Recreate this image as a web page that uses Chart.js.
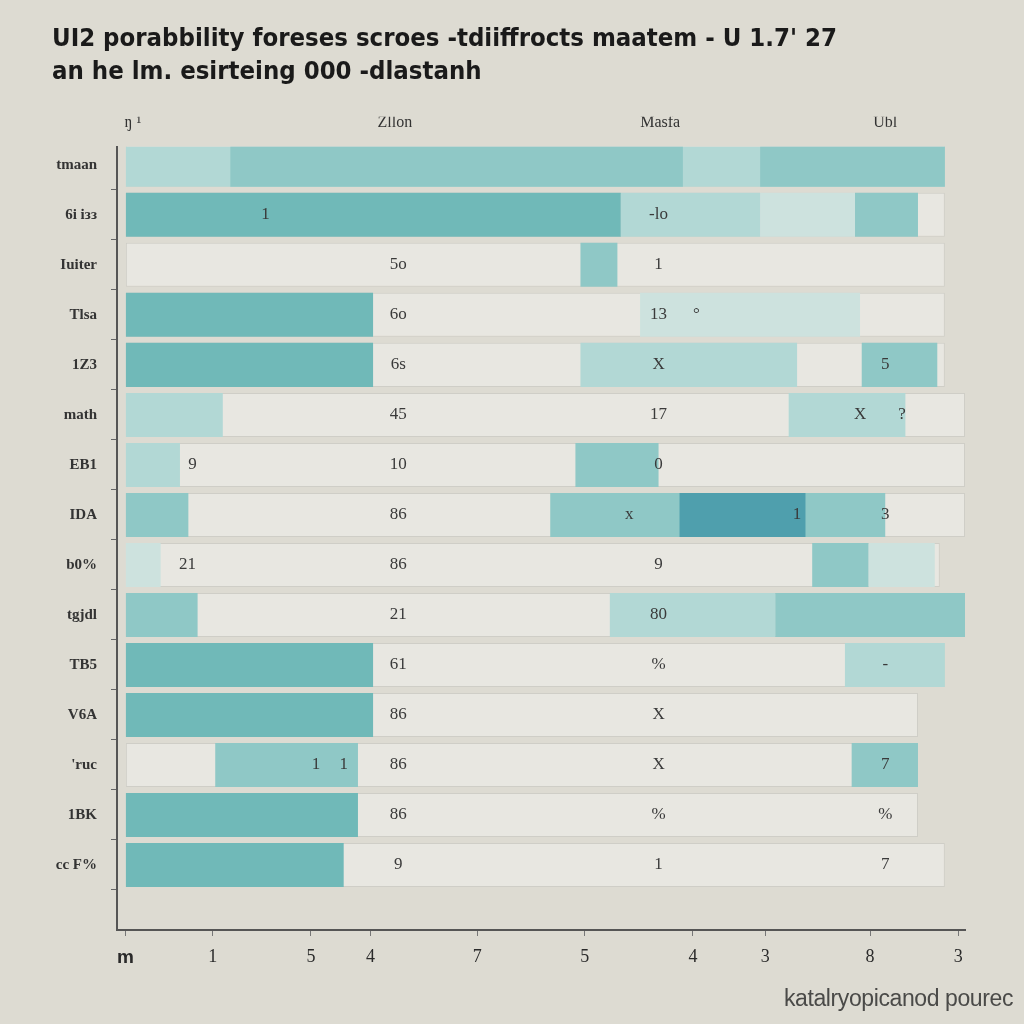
<!DOCTYPE html>
<html>
<head>
<meta charset="utf-8">
<script src="https://cdn.jsdelivr.net/npm/chart.js@4.4.1/dist/chart.umd.min.js"></script>
<style>
  html, body { margin: 0; padding: 0; background: #dddbd2; }
  #wrap { position: relative; width: 1024px; height: 1024px; }
  #source { position: absolute; left: 784px; top: 985px; font: 23px "Liberation Sans", "DejaVu Sans", sans-serif; color: #4a4a48; letter-spacing: -0.4px; }
</style>
</head>
<body>
<div id="wrap">
  <canvas id="chart" width="1024" height="1024"></canvas>
  <div id="source">katalryopicanod pourec</div>
</div>
<script>
// ==================== DATA ====================
const rowLabels = ['tmaan', '6i ізз', 'Iuiter', 'Tlsa', '1Z3', 'math', 'EB1', 'IDA', 'b0%', 'tgjdl', 'TB5', 'V6A', '\'ruc', '1BK', 'cc F%'];
const headerTicks = [0.9, 32.1, 63.7, 90.5];
const headerText = ['ŋ ¹', 'Zllon', 'Masfa', 'Ubl'];
const bottomTicks = [0, 10.4, 22.1, 29.2, 41.9, 54.7, 67.6, 76.2, 88.7, 99.2];
const bottomText = ['m', '1', '5', '4', '7', '5', '4', '3', '8', '3'];

// grey lane behind each row: end value
const laneEnd = [97.6, 97.6, 97.6, 97.6, 97.6, 100, 100, 100, 97, 100, 97.6, 94.4, 94.4, 94.4, 97.6];
// segments: [row, start, end]
const deepSeg = [[7, 66, 81]];
const darkSeg = [[1, 0, 59], [3, 0, 29.5], [4, 0, 29.5], [10, 0, 29.5], [11, 0, 29.5], [13, 0, 27.7], [14, 0, 26]];
const midSeg = [[0, 12.5, 66.4], [0, 75.6, 97.6], [1, 86.9, 94.4], [2, 54.2, 58.6], [4, 87.7, 96.7], [6, 53.6, 63.5],
  [7, 0, 7.5], [7, 50.6, 90.5], [8, 81.8, 88.5], [9, 0, 8.6], [9, 77.4, 100], [12, 10.7, 27.7], [12, 86.5, 94.4]];
const lightSeg = [[0, 0, 97.6], [1, 59, 75.6], [4, 54.2, 80], [5, 0, 11.6], [5, 79, 92.9], [6, 0, 6.5], [9, 57.7, 77.4], [10, 85.7, 97.6]];
const vlightSeg = [[1, 75.6, 86.9], [3, 61.3, 87.5], [8, 0, 4.2], [8, 88.5, 96.4]];

// value labels in three columns + loose ones
const colA = ['', '', '5o', '6o', '6s', '45', '10', '86', '86', '21', '61', '86', '86', '86', '9'];
const colB = ['', '-lo', '1', '13', 'X', '17', '0', '', '9', '80', '%', 'X', 'X', '%', '1'];
const colC = ['', '', '', '', '5', '', '', '3', '', '', '-', '', '7', '%', '7'];
const colX = [32.5, 63.5, 90.5];
const looseLabels = [[1, 16.7, '1'], [3, 68, '°'], [5, 87.5, 'X'], [5, 92.5, '?'], [6, 8, '9'], [7, 80, '1'],
  [7, 60, 'x'], [8, 7.4, '21'], [12, 22.7, '1'], [12, 26, '1']];

const toPts = segs => segs.map(s => ({ y: s[0], x: [s[1], s[2]] }));

// ==================== PLUGIN ====================
const valueLabels = {
  id: 'valueLabels',
  afterDatasetsDraw(chart) {
    const ctx = chart.ctx, xs = chart.scales.x, ys = chart.scales.y;
    ctx.save();
    ctx.font = '17px "Liberation Serif", "DejaVu Serif", serif';
    ctx.fillStyle = '#3a3a3a';
    ctx.textAlign = 'center';
    ctx.textBaseline = 'middle';
    [colA, colB, colC].forEach((col, c) => {
      col.forEach((t, i) => { if (t) ctx.fillText(t, xs.getPixelForValue(colX[c]), ys.getPixelForValue(i)); });
    });
    looseLabels.forEach(l => ctx.fillText(l[2], xs.getPixelForValue(l[1]), ys.getPixelForValue(l[0])));
    ctx.restore();
  }
};

// ==================== CHART ====================
const ds = (data, color, extra) => Object.assign({ data: toPts(data), backgroundColor: color, borderWidth: 0 }, extra || {});

new Chart(document.getElementById('chart').getContext('2d'), {
  type: 'bar',
  data: {
    datasets: [
      ds(deepSeg, '#4f9fad'),
      ds(darkSeg, '#70b9b8'),
      ds(midSeg, '#8fc8c6'),
      ds(lightSeg, '#b2d8d5'),
      ds(vlightSeg, '#cde2de'),
      { data: laneEnd.map((e, i) => ({ y: i, x: [0, e] })), backgroundColor: '#e8e7e1', borderColor: '#cfcec7', borderWidth: 1 }
    ]
  },
  options: {
    indexAxis: 'y',
    responsive: false,
    devicePixelRatio: 1,
    animation: false,
    datasets: { bar: { grouped: false, barPercentage: 0.88, categoryPercentage: 1, borderSkipped: false } },
    layout: { padding: { left: 52, right: 59, top: 0, bottom: 49 } },
    plugins: {
      legend: { display: false },
      tooltip: { enabled: false },
      title: {
        display: true,
        align: 'start',
        text: ['UI2 porabbility foreses scroes -tdiiffrocts maatem - U 1.7\' 27', 'an he lm. esirteing 000 -dlastanh'],
        color: '#1a1a1a',
        font: { family: '"Liberation Sans Narrow", "DejaVu Sans Condensed", "Liberation Sans", sans-serif', size: 25.5, weight: 'bold', lineHeight: 1.33 },
        padding: { top: 22, bottom: 27 }
      }
    },
    scales: {
      y: {
        type: 'linear',
        reverse: true,
        offset: false,
        min: -0.36,
        max: 15.3,
        afterBuildTicks: s => { s.ticks = rowLabels.map((_, i) => ({ value: i })); },
        afterFit: s => { s.width = 65; },
        ticks: {
          callback: v => rowLabels[v],
          color: '#333',
          padding: 14,
          font: { family: '"Liberation Serif", "DejaVu Serif", serif', size: 15, weight: 'bold' }
        },
        grid: { drawOnChartArea: false, tickLength: 6, color: '#666' },
        border: { display: true, color: '#555', width: 2 }
      },
      x: {
        type: 'linear',
        position: 'bottom',
        min: -1,
        max: 100,
        afterBuildTicks: s => { s.ticks = bottomTicks.map(v => ({ value: v })); },
        afterFit: s => { s.height = 45; },
        ticks: {
          autoSkip: false,
          maxRotation: 0,
          padding: 10,
          callback: (v, i) => bottomText[i],
          color: '#2a2a2a',
          font: ctx => ctx.index === 0
            ? { family: '"Liberation Sans", sans-serif', size: 19, weight: 'bold' }
            : { family: '"Liberation Serif", serif', size: 18 }
        },
        grid: { drawOnChartArea: false, tickLength: 6, color: '#777' },
        border: { display: true, color: '#555', width: 2 }
      },
      x2: {
        type: 'linear',
        position: 'top',
        min: -1,
        max: 100,
        afterBuildTicks: s => { s.ticks = headerTicks.map(v => ({ value: v })); },
        afterFit: s => { s.height = 30; },
        ticks: {
          autoSkip: false,
          maxRotation: 0,
          padding: 6,
          callback: (v, i) => headerText[i],
          color: '#333',
          font: { family: '"Liberation Serif", serif', size: 16 }
        },
        grid: { display: false },
        border: { display: false }
      }
    }
  },
  plugins: [valueLabels]
});
</script>
</body>
</html>
